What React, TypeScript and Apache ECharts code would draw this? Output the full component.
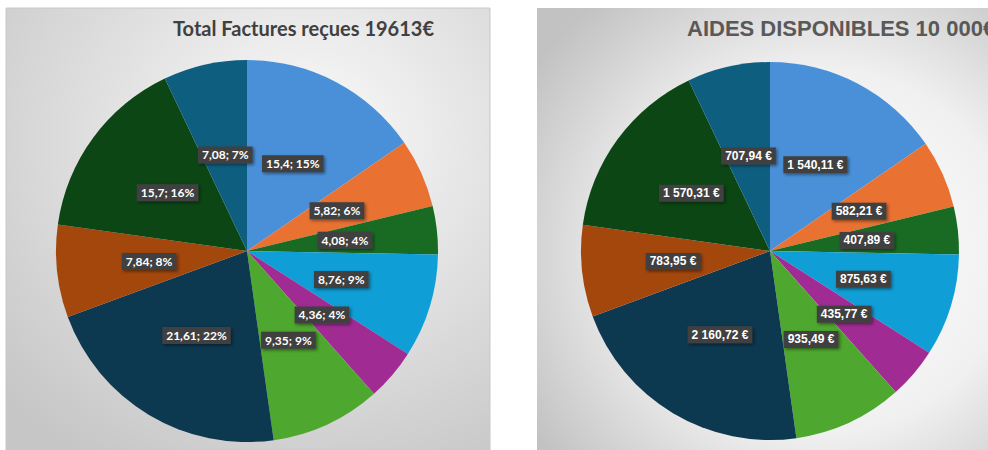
import React, { useEffect, useRef } from "react";
import * as echarts from "echarts";

const categories = [
  "Poste 1", "Poste 2", "Poste 3", "Poste 4", "Poste 5",
  "Poste 6", "Poste 7", "Poste 8", "Poste 9", "Poste 10",
];
const factureValues = [15.4, 5.82, 4.08, 8.76, 4.36, 9.35, 21.61, 7.84, 15.7, 7.08];
const aideValues = [1540.11, 582.21, 407.89, 875.63, 435.77, 935.49, 2160.72, 783.95, 1570.31, 707.94];
const sliceColors = [
  "#4a90d9", "#e97132", "#196b24", "#0f9ed5", "#a02b93",
  "#4ea72e", "#0c3850", "#a3470d", "#0b4614", "#0e5e80",
];
const titleLeft = "Total Factures reçues 19613€";
const titleRight = "AIDES DISPONIBLES 10 000€";

function formatEuro(v: number): string {
  const [i, d] = v.toFixed(2).split(".");
  const grouped = i.replace(/\B(?=(\d{3})+(?!\d))/g, " ");
  return `${grouped},${d} €`;
}

function formatFacture(v: number, pct: number): string {
  return `${String(v).replace(".", ",")}; ${Math.round(pct)}%`;
}

const labelBase = {
  show: true,
  position: "inside",
  color: "#ffffff",
  fontWeight: "bold",
  fontSize: 12,
  backgroundColor: "#404040",
  padding: [3, 4, 2, 4],
  shadowColor: "rgba(0,0,0,0.45)",
  shadowBlur: 3,
  shadowOffsetX: 1.5,
  shadowOffsetY: 1.5,
};

export default function App() {
  const ref = useRef<HTMLDivElement>(null);
  useEffect(() => {
    if (!ref.current) return;
    const chart = echarts.init(ref.current, undefined, { renderer: "svg" });
    chart.setOption({
      animation: false,
      graphic: [
        {
          type: "rect",
          z: 0,
          shape: { x: 6, y: 8, width: 484, height: 442 },
          style: {
            fill: {
              type: "radial", x: 0.62, y: 0.3, r: 0.85,
              colorStops: [
                { offset: 0, color: "#fbfbfb" },
                { offset: 1, color: "#c6c6c6" },
              ],
            },
            stroke: "#c8c8c8",
            lineWidth: 1,
          },
        },
        {
          type: "rect",
          z: 0,
          shape: { x: 537, y: 8, width: 460, height: 442 },
          style: {
            fill: {
              type: "radial", x: 0.62, y: 0.55, r: 0.75,
              colorStops: [
                { offset: 0, color: "#ffffff" },
                { offset: 0.55, color: "#f0f0f0" },
                { offset: 1, color: "#c2c2c2" },
              ],
            },
          },
        },
        {
          type: "text",
          z: 10,
          x: 173,
          y: 18,
          style: {
            text: titleLeft,
            fill: "#404040",
            font: "bold 20px Lato",
          },
        },
        {
          type: "text",
          z: 10,
          x: 687,
          y: 17,
          style: {
            text: titleRight,
            fill: "#595959",
            font: "bold 22px 'Liberation Sans'",
          },
        },
      ],
      series: [
        {
          type: "pie",
          center: [247, 251],
          radius: [0, 191],
          startAngle: 90,
          z: 2,
          label: {
            ...labelBase,
            fontFamily: "Lato",
            formatter: (p: any) => formatFacture(p.value, p.percent),
          },
          labelLine: { show: false },
          emphasis: { disabled: true },
          data: factureValues.map((v, i) => ({
            name: categories[i], value: v, itemStyle: { color: sliceColors[i] },
          })),
        },
        {
          type: "pie",
          center: [770, 251],
          radius: [0, 189],
          startAngle: 90,
          z: 2,
          label: {
            ...labelBase,
            fontFamily: "Liberation Sans",
            formatter: (p: any) => formatEuro(p.value),
          },
          labelLine: { show: false },
          emphasis: { disabled: true },
          data: aideValues.map((v, i) => ({
            name: categories[i], value: v, itemStyle: { color: sliceColors[i] },
          })),
        },
      ],
    });
    return () => chart.dispose();
  }, []);
  return (
    <div
      ref={ref}
      style={{ position: "absolute", left: 0, top: 0, width: 988, height: 450, background: "#ffffff" }}
    />
  );
}
